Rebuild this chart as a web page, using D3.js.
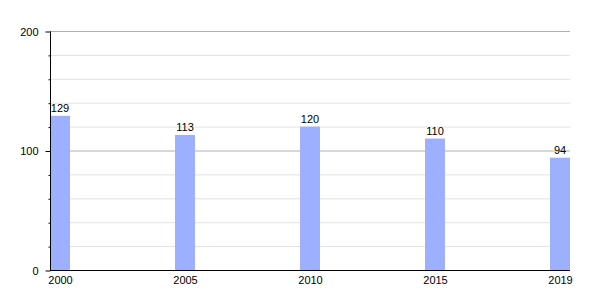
<!DOCTYPE html>
<html>
<head>
<meta charset="utf-8">
<script src="https://cdn.jsdelivr.net/npm/d3@7"></script>
<style>
  body { margin: 0; background: #fff; }
  text { font-family: "Liberation Sans", Arial, sans-serif; font-size: 11px; fill: #000; }
</style>
</head>
<body>
<div class="board"></div>
<script>
(function() {

  var years = ['2000', '2005', '2010', '2015', '2019'];
  var values = [129, 113, 120, 110, 94];
  var majorTicks = [0, 100, 200];
  var minorTicks = [20, 40, 60, 80, 120, 140, 160, 180];

  var width = 600, height = 300;
  var left = 50, right = 570, top = 31, bottom = 270;

  var svg = d3.select('.board')
    .append('svg')
    .attr('width', width)
    .attr('height', height);

  var x = d3.scalePoint()
    .domain(years)
    .range([left + 10, right - 10]);

  var y = d3.scaleLinear()
    .domain([0, 200])
    .range([bottom, top]);

  // minor grid
  svg.selectAll('line.minor')
    .data(minorTicks)
    .enter()
    .append('line')
    .attr('class', 'minor')
    .attr('x1', left).attr('x2', right)
    .attr('y1', function(d) { return y(d) + 0.5; })
    .attr('y2', function(d) { return y(d) + 0.5; })
    .style('stroke', '#e2e2e2');

  // major grid
  svg.selectAll('line.major')
    .data(majorTicks.filter(function(d) { return d > 0; }))
    .enter()
    .append('line')
    .attr('class', 'major')
    .attr('x1', left).attr('x2', right)
    .attr('y1', function(d) { return y(d) + 0.5; })
    .attr('y2', function(d) { return y(d) + 0.5; })
    .style('stroke', '#b0b0b0');

  // bars
  svg.selectAll('rect.bar')
    .data(values)
    .enter()
    .append('rect')
    .attr('class', 'bar')
    .attr('x', function(d, i) { return x(years[i]) - 10; })
    .attr('y', function(d) { return y(d); })
    .attr('width', 20)
    .attr('height', function(d) { return bottom - y(d); })
    .style('fill', '#9cb0ff');

  // value labels
  svg.selectAll('text.val')
    .data(values)
    .enter()
    .append('text')
    .attr('class', 'val')
    .attr('x', function(d, i) { return x(years[i]); })
    .attr('y', function(d) { return y(d) - 4; })
    .style('text-anchor', 'middle')
    .text(function(d) { return d; });

  // y axis
  var yAxis = d3.axisLeft(y)
    .tickValues(majorTicks)
    .tickSize(5)
    .tickPadding(7);

  var yMinor = d3.axisLeft(y)
    .tickValues(minorTicks)
    .tickSize(2)
    .tickFormat('');

  var ga = svg.append('g')
    .attr('transform', 'translate(' + (left + 0.5) + ',0.5)')
    .call(yAxis);
  ga.select('.domain').attr('d', 'M0,' + top + 'V' + bottom).style('stroke', '#000');
  ga.selectAll('text').style('font-size', '11px').attr('dy', '0.35em');

  var gm = svg.append('g')
    .attr('transform', 'translate(' + (left + 0.5) + ',0.5)')
    .call(yMinor);
  gm.select('.domain').remove();

  // x axis
  var xAxis = d3.axisBottom(x)
    .tickSize(0)
    .tickPadding(6);

  var gx = svg.append('g')
    .attr('transform', 'translate(0,' + (bottom + 0.5) + ')')
    .call(xAxis);
  gx.select('.domain').attr('d', 'M' + left + ',0H' + right).style('stroke', '#000');
  gx.selectAll('text').style('font-size', '11px');

})();
</script>
</body>
</html>
